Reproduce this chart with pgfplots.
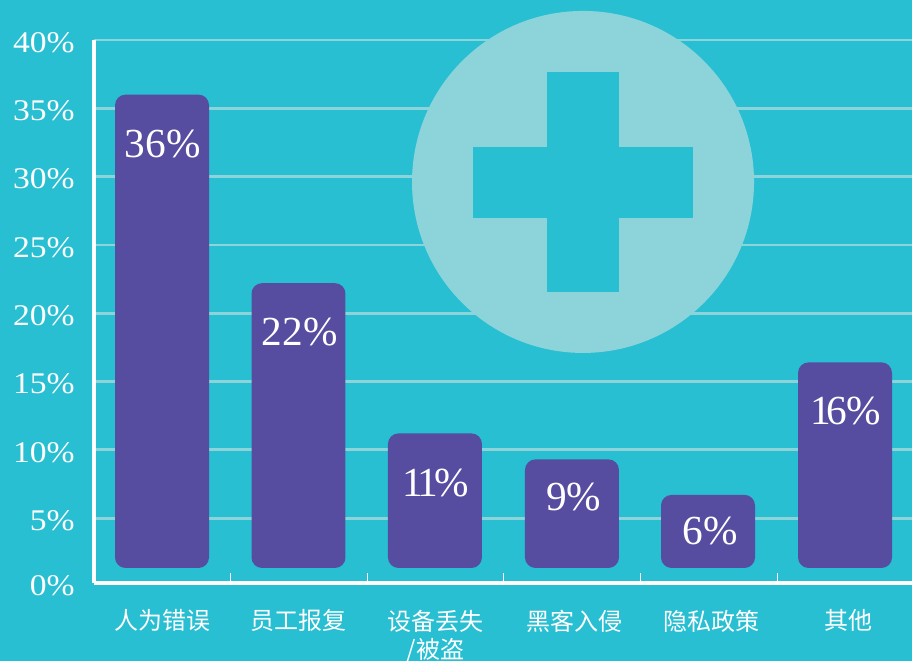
\documentclass[border=0pt]{standalone}
\usepackage{pgfplots}
\usepackage{pgfplotstable}
\usepackage{fontspec}
\pgfplotsset{compat=1.18}
\setmainfont{Liberation Serif}
\newfontfamily\tickfont[FakeStretch=1.12]{Liberation Serif}
\newfontfamily\cjk{Noto Sans CJK SC}
\definecolor{bgc}{HTML}{29BFD2}
\definecolor{barc}{HTML}{564DA0}
\definecolor{gridc}{HTML}{8DD4DA}
\def\u{0.75pt}
\pgfplotstableread{
x y lab
0.502 32.4 36\%
1.505 18.6 22\%
2.503 7.6 1\kern-4.5pt1\kern-2.5pt\%
3.513 6.55 9\%
4.51 4.06 6\%
5.50 12.85 1\kern-3.5pt6\kern-0.5pt\%
}\labeltable
\pgfplotsset{barst/.style={fill=barc,draw=none,mark=none,solid,rounded corners=10.5*\u}}
\begin{document}
\begin{tikzpicture}
\fill[bgc] (0,0) rectangle (912*\u,661*\u);
\useasboundingbox (0,0) rectangle (912*\u,661*\u);
\begin{axis}[
  at={(94*\u,78*\u)},anchor=south west,
  scale only axis,width=819.6*\u,height=543*\u,
  xmin=0,xmax=6,ymin=0.25,ymax=40,
  clip=false,
  axis lines=left,
  axis line style={-,white,line width=3.2*\u},
  ytick={0.25,5,10,15,20,25,30,35,40},
  yticklabels={0\%,5\%,10\%,15\%,20\%,25\%,30\%,35\%,40\%},
  xtick={0.498,1.5,2.5,3.52,4.517,5.527},
  xticklabels={人为错误,员工报复,{设备丢失\\/被盗},黑客入侵,隐私政策,其他},
  minor xtick={1,2,3,4,5},
  ymajorgrids,
  major grid style={gridc,line width=2.8*\u},
  major tick length=0pt,
  minor tick length=10*\u,
  tick align=inside,
  minor tick style={white,line width=1*\u},
  major tick style={draw=none},
  yticklabel style={anchor=east,inner sep=0pt,xshift=-19*\u,yshift=-2.5*\u,text=white,font=\tickfont\fontsize{22.5}{27}\selectfont},
  xticklabel style={anchor=north,inner sep=0pt,yshift=-26.5*\u,text=white,align=center,font=\cjk\fontsize{18}{21.5}\selectfont},
]
\fill[gridc] (axis cs:3.58,29.61) circle[radius=171*\u];
\fill[bgc] (axis cs:3.316,21.56) rectangle (axis cs:3.843,37.66);
\fill[bgc] (axis cs:2.775,26.98) rectangle (axis cs:4.385,32.17);
\addplot[barst] coordinates {(0.5,1.35)(0.154,1.35)(0.154,36)(0.842,36)(0.842,1.35)} -- cycle;
\addplot[barst] coordinates {(1.5,1.35)(1.153,1.35)(1.153,22.2)(1.841,22.2)(1.841,1.35)} -- cycle;
\addplot[barst] coordinates {(2.5,1.35)(2.152,1.35)(2.152,11.2)(2.84,11.2)(2.84,1.35)} -- cycle;
\addplot[barst] coordinates {(3.5,1.35)(3.155,1.35)(3.155,9.3)(3.843,9.3)(3.843,1.35)} -- cycle;
\addplot[barst] coordinates {(4.5,1.35)(4.151,1.35)(4.151,6.7)(4.839,6.7)(4.839,1.35)} -- cycle;
\addplot[barst] coordinates {(5.5,1.35)(5.154,1.35)(5.154,16.4)(5.842,16.4)(5.842,1.35)} -- cycle;
\addplot[draw=none,mark=none,
  nodes near coords,point meta=explicit symbolic,
  nodes near coords style={anchor=center,inner sep=0pt,text=white,font=\fontsize{31}{36}\selectfont}]
  table[x=x,y=y,meta=lab] {\labeltable};
\end{axis}
\end{tikzpicture}
\end{document}
